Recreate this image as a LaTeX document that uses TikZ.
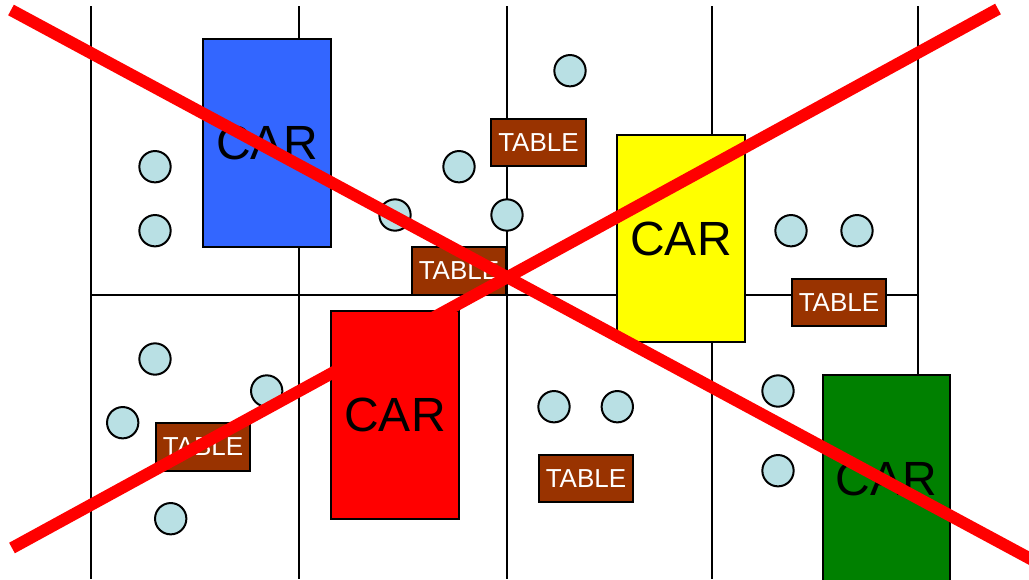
\documentclass[tikz,border=0pt]{standalone}
\usepackage{fontspec}
\setmainfont{Liberation Sans}
\usepackage{tikz}
\definecolor{carblue}{RGB}{51,102,255}
\definecolor{caryellow}{RGB}{255,255,0}
\definecolor{carred}{RGB}{255,0,0}
\definecolor{cargreen}{RGB}{0,128,0}
\definecolor{tablebrown}{RGB}{153,51,0}
\definecolor{seatblue}{RGB}{185,224,228}
\definecolor{crossred}{RGB}{255,0,0}

\begin{document}
\begin{tikzpicture}[x=0.75pt,y=-0.75pt,
  car/.style={draw=black,line width=1.5pt,minimum width=95.5pt,minimum height=155.5pt,inner sep=0pt,font=\fontsize{36}{36}\selectfont},
  tablebox/.style={draw=black,fill=tablebrown,line width=1.5pt,minimum width=71pt,minimum height=35.5pt,inner sep=0pt,text=white,font=\fontsize{19.5}{20}\selectfont},
  seat/.style={circle,draw=black,fill=seatblue,line width=1.5pt,minimum size=23.5pt,inner sep=0pt}]
\useasboundingbox (0,0) rectangle (1029,579);

% Parking lanes
\draw[line width=1.5pt] (91,6) -- (91,579);
\draw[line width=1.5pt] (299,6) -- (299,579);
\draw[line width=1.5pt] (507,6) -- (507,579);
\draw[line width=1.5pt] (712,6) -- (712,579);
\draw[line width=1.5pt] (918,6) -- (918,579);
\draw[line width=1.5pt] (91,295) -- (918,295);

% Cars
\node[car,fill=carblue] (bluecar) at (267,143) {CAR};
\node[car,fill=caryellow] (yellowcar) at (681,238.5) {CAR};
\node[car,fill=carred] (redcar) at (395,415) {CAR};
\node[car,fill=cargreen] (greencar) at (886.5,479) {CAR};

% Tables
\node[tablebox] (tableA) at (538.5,142.5) {TABLE};
\node[tablebox] (tableB) at (459,271) {TABLE};
\node[tablebox] (tableC) at (839,302.5) {TABLE};
\node[tablebox] (tableD) at (203,447) {TABLE};
\node[tablebox] (tableE) at (586,478.5) {TABLE};

% Seats
\foreach \x/\y [count=\i] in {155/166.7, 155/230.7, 459/166.7, 395/215, 507/215,
    570/70.7, 791/230.7, 857/230.7, 155/359, 266.7/391, 122.7/422.7, 170.7/518.7,
    554/406.7, 617.3/406.7, 778/391, 778/470.7}
  \node[seat] (seat\i) at (\x,\y) {};

% Crossed out
\coordinate (crossNW) at (11,10);
\coordinate (crossSE) at (1040,564);
\coordinate (crossSW) at (12,548);
\coordinate (crossNE) at (998,9);
\draw[crossred,line width=9pt] (crossNW) -- (crossSE);
\draw[crossred,line width=9pt] (crossSW) -- (crossNE);
\end{tikzpicture}
\end{document}
